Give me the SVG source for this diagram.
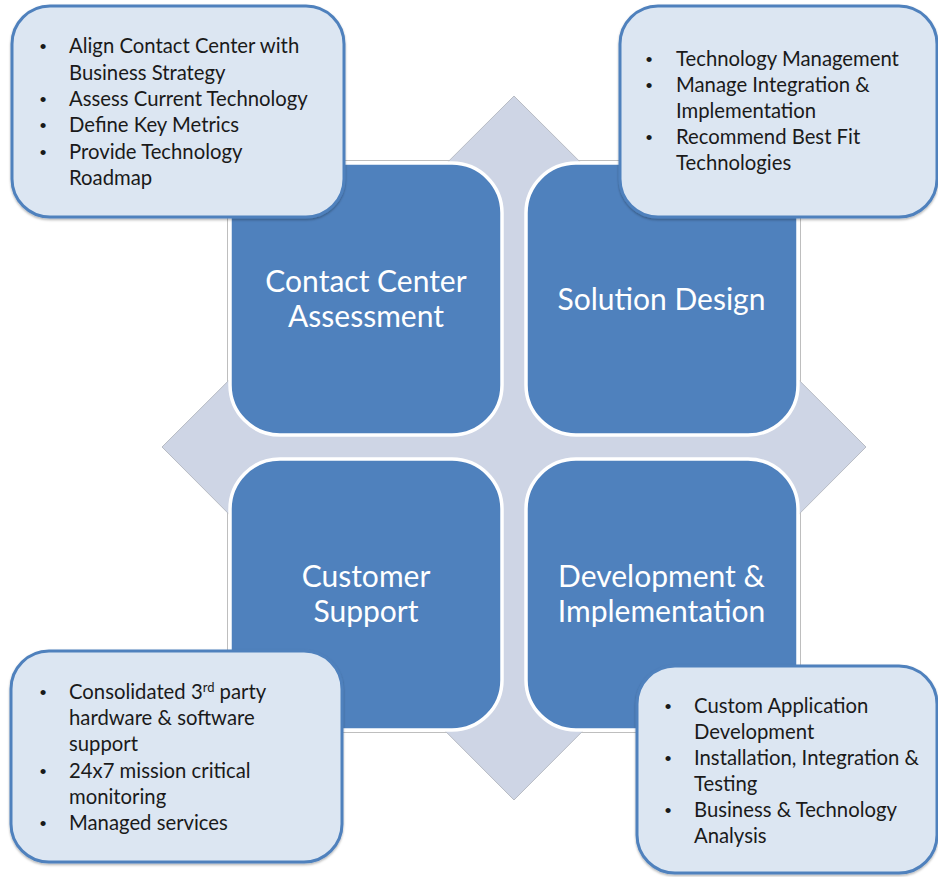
<svg xmlns="http://www.w3.org/2000/svg" width="938" height="877" viewBox="0 0 938 877">
<defs>
<style>
.quad{fill:#4F81BD;stroke:#FFFFFF;stroke-width:3.5}
.qshadow{fill:none;stroke:#BEBEBE;stroke-width:1}
.callout{fill:#DCE6F2;stroke:#4F81BD;stroke-width:3}
.lbl{font-family:Lato,"Liberation Sans",sans-serif;font-size:30px;fill:#FFFFFF;text-anchor:middle}
.txt{font-family:Lato,"Liberation Sans",sans-serif;font-size:20.3px;fill:#1A1A1A}
.bul{font-family:"Liberation Sans",sans-serif;font-size:19px;fill:#1A1A1A;text-anchor:middle}
</style>
<filter id="sh" x="-5%" y="-5%" width="110%" height="115%">
<feDropShadow dx="0" dy="1.5" stdDeviation="1.2" flood-color="#000000" flood-opacity="0.3"/>
</filter>
</defs>
<rect width="938" height="877" fill="#FFFFFF"/>
<g id="quadrant-shadows">
<rect class="qshadow" x="227.5" y="160.5" width="277" height="277" rx="52"/>
<rect class="qshadow" x="523.5" y="160.5" width="277" height="277" rx="52"/>
<rect class="qshadow" x="227.5" y="456.5" width="277" height="276" rx="52"/>
<rect class="qshadow" x="523.5" y="456.5" width="277" height="276" rx="52"/>
</g>
<g id="background-diamond">
<polygon points="514,96 866,447 514,800 162,447" fill="#CED5E5" stroke="#B8BCC4" stroke-width="1"/>
</g>
<g id="connectors"></g>
<g id="contact-center-assessment">
<rect class="quad" x="230" y="163" width="272" height="272" rx="50"/>
<text class="lbl" x="366" y="292">Contact Center</text>
<text class="lbl" x="366" y="327">Assessment</text>
</g>
<g id="solution-design">
<rect class="quad" x="526" y="163" width="272" height="272" rx="50"/>
<text class="lbl" x="661.5" y="309.5">Solution Design</text>
</g>
<g id="customer-support">
<rect class="quad" x="230" y="459" width="272" height="271" rx="50"/>
<text class="lbl" x="366" y="586.5">Customer</text>
<text class="lbl" x="366" y="622">Support</text>
</g>
<g id="development-implementation">
<rect class="quad" x="526" y="459" width="272" height="271" rx="50"/>
<text class="lbl" x="661.5" y="586.5">Development &amp;</text>
<text class="lbl" x="661.5" y="622">Implementation</text>
</g>
<g id="callout-assessment">
<rect class="callout" filter="url(#sh)" x="12" y="6" width="332" height="211" rx="38"/>
<text class="bul" x="43" y="53">•</text>
<text class="bul" x="43" y="106">•</text>
<text class="bul" x="43" y="132">•</text>
<text class="bul" x="43" y="159">•</text>
<text class="txt" x="69" y="53">Align Contact Center with</text>
<text class="txt" x="69" y="80">Business Strategy</text>
<text class="txt" x="69" y="106">Assess Current Technology</text>
<text class="txt" x="69" y="132">Define Key Metrics</text>
<text class="txt" x="69" y="159">Provide Technology</text>
<text class="txt" x="69" y="185">Roadmap</text>
</g>
<g id="callout-solution">
<rect class="callout" filter="url(#sh)" x="620" y="6" width="317" height="211" rx="38"/>
<text class="bul" x="649" y="66">•</text>
<text class="bul" x="649" y="92">•</text>
<text class="bul" x="649" y="144">•</text>
<text class="txt" x="676" y="66">Technology Management</text>
<text class="txt" x="676" y="92">Manage Integration &amp;</text>
<text class="txt" x="676" y="118">Implementation</text>
<text class="txt" x="676" y="144">Recommend Best Fit</text>
<text class="txt" x="676" y="170">Technologies</text>
</g>
<g id="callout-support">
<rect class="callout" filter="url(#sh)" x="11" y="651" width="331" height="211" rx="38"/>
<text class="bul" x="43" y="699">•</text>
<text class="bul" x="43" y="778">•</text>
<text class="bul" x="43" y="830">•</text>
<text class="txt" x="69" y="699">Consolidated 3<tspan font-size="13" dy="-7">rd</tspan><tspan dy="7"> party</tspan></text>
<text class="txt" x="69" y="725">hardware &amp; software</text>
<text class="txt" x="69" y="751">support</text>
<text class="txt" x="69" y="778">24x7 mission critical</text>
<text class="txt" x="69" y="804">monitoring</text>
<text class="txt" x="69" y="830">Managed services</text>
</g>
<g id="callout-development">
<rect class="callout" filter="url(#sh)" x="637" y="666" width="300" height="207" rx="38"/>
<text class="bul" x="668" y="713">•</text>
<text class="bul" x="668" y="765">•</text>
<text class="bul" x="668" y="817">•</text>
<text class="txt" x="694" y="713">Custom Application</text>
<text class="txt" x="694" y="739">Development</text>
<text class="txt" x="694" y="765">Installation, Integration &amp;</text>
<text class="txt" x="694" y="791">Testing</text>
<text class="txt" x="694" y="817">Business &amp; Technology</text>
<text class="txt" x="694" y="843">Analysis</text>
</g>
</svg>
